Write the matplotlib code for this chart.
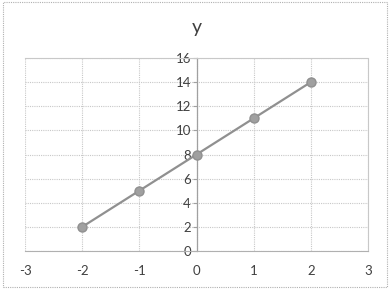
import matplotlib
matplotlib.use("Agg")
import matplotlib.pyplot as plt
from matplotlib.patches import Rectangle

x_vals = [-2, -1, 0, 1, 2]
y_vals = [2, 5, 8, 11, 14]
x_ticks = [-3, -2, -1, 0, 1, 2, 3]
y_ticks = [0, 2, 4, 6, 8, 10, 12, 14, 16]
title = "y"

plt.rcParams['font.family'] = ['Lato', 'DejaVu Sans']
plt.rcParams['axes.unicode_minus'] = False

fig = plt.figure(figsize=(3.9, 2.89), dpi=100)
fig.patch.set_facecolor('white')
# outer dotted border
fig.patches.append(Rectangle((0.008, 0.008), 0.984, 0.984, transform=fig.transFigure,
                             fill=False, edgecolor='#b0b0b0', linestyle=(0, (1, 1)), linewidth=0.8))

ax = fig.add_axes([25/390, (289-251)/289, (368-25)/390, (251-58)/289])
ax.set_xlim(-3, 3)
ax.set_ylim(0, 16)
ax.set_xticks(x_ticks)
ax.set_yticks(y_ticks)
ax.grid(True, color='#c8c8c8', linestyle=(0, (1, 1)), linewidth=0.8)
ax.set_axisbelow(True)

for s in ['top', 'right']:
    ax.spines[s].set_color('#c8c8c8')
    ax.spines[s].set_linestyle((0, (1, 1)))
    ax.spines[s].set_linewidth(0.8)
ax.spines['bottom'].set_color('#b0b0b0')
ax.spines['bottom'].set_linewidth(0.8)
ax.spines['left'].set_position(('data', 0))
ax.spines['left'].set_color('#a0a0a0')
ax.spines['left'].set_linewidth(0.9)

ax.tick_params(axis='y', direction='out', length=3, color='#a0a0a0', labelsize=9.5,
               labelcolor='#404040', pad=1)
ax.tick_params(axis='x', length=0, labelsize=9.5, labelcolor='#404040', pad=10)

ax.plot(x_vals, y_vals, color='#909090', linewidth=1.6, marker='o', markersize=6.5,
        markerfacecolor='#a0a0a0', markeredgecolor='#909090', zorder=3)

fig.text(197/390, 1 - 28/289, title, ha='center', va='center', fontsize=14, color='#404040')

fig.savefig('out.png', dpi=100, facecolor='white')
